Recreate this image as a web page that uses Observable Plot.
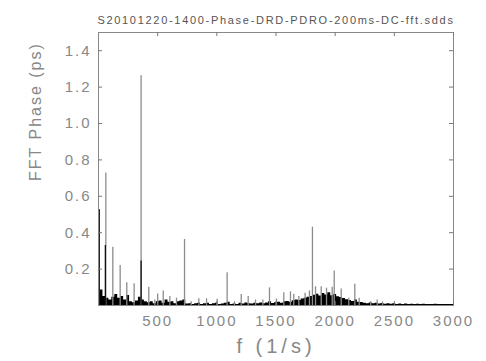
<!DOCTYPE html>
<html><head><meta charset="utf-8">
<script src="https://cdn.jsdelivr.net/npm/d3@7"></script>
<script src="https://cdn.jsdelivr.net/npm/@observablehq/plot@0.6"></script>
<style>
body{margin:0;background:#fff}
#chart svg{display:block}
g[aria-label$="tick label"] text{letter-spacing:2px}
.ttl text{letter-spacing:1.7px}
.xl text{letter-spacing:4px}
.yl text{letter-spacing:2px}
</style>
</head><body><div id="chart"></div>
<script>
const titleText = "S20101220-1400-Phase-DRD-PDRO-200ms-DC-fft.sdds";
const xLabel = "f (1/s)";
const yLabel = "FFT Phase (ps)";
const xTicks = [500, 1000, 1500, 2000, 2500, 3000];
const yTicks = [0.2, 0.4, 0.6, 0.8, 1.0, 1.2, 1.4];

// sharp peaks (frequency in 1/s, amplitude in ps)
const spikeFreq = [6, 62, 121, 183, 239, 301, 360, 425, 476, 500, 547, 603, 659, 727, 783, 848, 913, 1003, 1087, 1149, 1206, 1265, 1327, 1389, 1445, 1504, 1566, 1622, 1650, 1693, 1746, 1783, 1808, 1834, 1882, 1927, 1975, 1992, 2051, 2115, 2166, 2203, 2300, 2355, 2400];
const spikeValue = [0.526, 0.728, 0.32, 0.22, 0.125, 0.12, 1.263, 0.10, 0.03, 0.063, 0.08, 0.05, 0.04, 0.363, 0.02, 0.037, 0.037, 0.034, 0.18, 0.02, 0.06, 0.05, 0.03, 0.03, 0.097, 0.035, 0.07, 0.075, 0.06, 0.05, 0.067, 0.08, 0.43, 0.103, 0.103, 0.095, 0.10, 0.19, 0.09, 0.04, 0.117, 0.04, 0.02, 0.03, 0.02];
// dark (overlapping) peaks
const darkFreq = [6, 58, 360];
const darkValue = [0.526, 0.33, 0.245];

// noise floor
const floorFreq = [0,25,50,75,100,125,150,175,200,225,250,275,300,325,350,375,400,425,450,475,500,525,550,575,600,625,650,675,700,725,750,775,800,825,850,875,900,925,950,975,1000,1025,1050,1075,1100,1125,1150,1175,1200,1225,1250,1275,1300,1325,1350,1375,1400,1425,1450,1475,1500,1525,1550,1575,1600,1625,1650,1675,1700,1725,1750,1775,1800,1825,1850,1875,1900,1925,1950,1975,2000,2025,2050,2075,2100,2125,2150,2175,2200,2225,2250,2275,2300,2325,2350,2375,2400,2425,2450,2475,2500,2525,2550,2575,2600,2625,2650,2675,2700,2725,2750,2775,2800,2825,2850,2875,2900,2925,2950,2975,3000];
const floorValue = [0.10,0.085,0.05,0.04,0.03,0.045,0.06,0.04,0.05,0.03,0.055,0.02,0.015,0.025,0.045,0.03,0.02,0.015,0.02,0.01,0.02,0.025,0.012,0.03,0.018,0.02,0.01,0.02,0.025,0.03,0.008,0.01,0.006,0.01,0.012,0.006,0.01,0.012,0.005,0.01,0.012,0.006,0.008,0.012,0.018,0.006,0.008,0.005,0.012,0.008,0.014,0.01,0.008,0.012,0.009,0.014,0.01,0.014,0.02,0.011,0.015,0.018,0.013,0.02,0.022,0.018,0.026,0.03,0.027,0.036,0.04,0.046,0.05,0.056,0.062,0.052,0.066,0.058,0.07,0.054,0.06,0.048,0.044,0.038,0.032,0.028,0.022,0.03,0.018,0.016,0.013,0.01,0.014,0.009,0.012,0.008,0.011,0.007,0.01,0.007,0.009,0.006,0.008,0.006,0.008,0.006,0.007,0.005,0.007,0.006,0.007,0.005,0.006,0.005,0.007,0.005,0.006,0.005,0.006,0.005,0.005];

const spikes = spikeFreq.map((f, i) => ({f, v: spikeValue[i]}));
const dark = darkFreq.map((f, i) => ({f, v: darkValue[i]}));
const floor = floorFreq.map((f, i) => ({f, v: floorValue[i]}));

const chart = Plot.plot({
  width: 486, height: 361,
  marginLeft: 98, marginRight: 33, marginTop: 32, marginBottom: 56,
  style: {fontFamily: "'Liberation Sans', Arial, sans-serif", background: "#fff", overflow: "visible"},
  x: {domain: [0, 3000]},
  y: {domain: [0, 1.5]},
  marks: [
    Plot.areaY(floor, {x: "f", y: "v", fill: "#000", curve: "step"}),
    Plot.ruleX(spikes, {x: "f", y1: 0, y2: "v", stroke: "#8c8c8c", strokeWidth: 1.3}),
    Plot.ruleX(dark, {x: "f", y1: 0, y2: "v", stroke: "#111", strokeWidth: 1.3}),
    Plot.frame({stroke: "#888"}),
    Plot.tickY(yTicks, {y: d => d, stroke: "#777", insetRight: 351}),
    Plot.tickY(yTicks, {y: d => d, stroke: "#777", insetLeft: 351}),
    Plot.tickX(xTicks, {x: d => d, stroke: "#777", insetBottom: 269}),
    Plot.tickX(xTicks, {x: d => d, stroke: "#777", insetTop: 269}),
    Plot.axisY(yTicks, {tickSize: 0, tickPadding: 7, fontSize: 15, fill: "#888", label: null, tickFormat: d3.format(".1f")}),
    Plot.axisX(xTicks, {tickSize: 0, tickPadding: 10, fontSize: 15, fill: "#888", label: null, tickFormat: d => String(d)}),
    Plot.text([titleText], {text: d => d, frameAnchor: "top", dy: -16, fontSize: 11, fill: "#555", className: "ttl"}),
    Plot.text([xLabel], {text: d => d, frameAnchor: "bottom", dy: 47, fontSize: 20, fill: "#888", className: "xl"}),
    Plot.text([yLabel], {text: d => d, frameAnchor: "left", dx: -63, dy: 12, rotate: -90, fontSize: 16, fill: "#888", className: "yl"})
  ]
});
document.getElementById("chart").append(chart);
</script>
</body></html>
